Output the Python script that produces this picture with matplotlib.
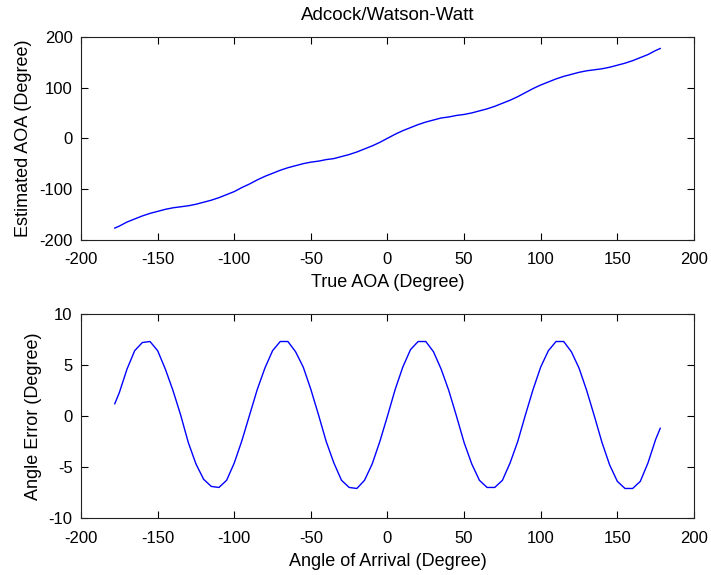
import numpy as np
import matplotlib
matplotlib.use("Agg")
import matplotlib.pyplot as plt

# angle grid (degrees)
aoa = [-178, -175, -170, -165, -160, -155, -150, -145, -140, -135, -130, -125,
       -120, -115, -110, -105, -100, -95, -90, -85, -80, -75, -70, -65, -60,
       -55, -50, -45, -40, -35, -30, -25, -20, -15, -10, -5, 0, 5, 10, 15, 20,
       25, 30, 35, 40, 45, 50, 55, 60, 65, 70, 75, 80, 85, 90, 95, 100, 105,
       110, 115, 120, 125, 130, 135, 140, 145, 150, 155, 160, 165, 170, 175, 178]

# top panel: estimated AOA
est = [-177, -173, -165, -159, -153, -148, -144, -140, -137, -135, -133, -130,
       -126, -122, -117, -111, -105, -97, -90, -82, -75, -69, -63, -58, -54,
       -50, -47, -45, -42, -40, -36, -32, -27, -21, -15, -8, 0, 8, 15, 21, 27,
       32, 36, 40, 42, 45, 47, 50, 54, 58, 63, 69, 75, 82, 90, 98, 105, 111,
       117, 122, 126, 130, 133, 135, 137, 140, 144, 148, 153, 159, 165, 173, 177]

# bottom panel: angle error
err = [1.2, 2.3, 4.6, 6.4, 7.2, 7.3, 6.4, 4.6, 2.5, 0.1, -2.6, -4.7,
       -6.2, -6.9, -7.0, -6.3, -4.6, -2.4, 0.1, 2.6, 4.7, 6.4, 7.3, 7.3, 6.3,
       4.8, 2.6, 0.1, -2.5, -4.6, -6.3, -7.0, -7.1, -6.3, -4.7, -2.5, 0.0, 2.6, 4.8, 6.5, 7.3,
       7.3, 6.3, 4.6, 2.5, 0.0, -2.6, -4.7, -6.3, -7.0, -7.0, -6.3, -4.6, -2.5, 0.1, 2.6, 4.8, 6.4,
       7.3, 7.3, 6.3, 4.7, 2.5, 0.0, -2.6, -4.8, -6.4, -7.1, -7.1, -6.4, -4.6, -2.3, -1.2]

plt.rcParams['font.family'] = ['Liberation Sans', 'DejaVu Sans']
plt.rcParams['font.size'] = 12
plt.rcParams['axes.unicode_minus'] = False

fig = plt.figure(figsize=(7.11, 5.75), dpi=100)
ax1 = fig.add_axes([0.114, 0.583, 0.862, 0.353])
ax2 = fig.add_axes([0.114, 0.099, 0.862, 0.355])

ax1.plot(aoa, est, color='#0000ff', lw=1)
ax1.set_xlim(-200, 200)
ax1.set_ylim(-200, 200)
ax1.set_yticks([-200, -100, 0, 100, 200])
ax1.set_xlabel("True AOA (Degree)", fontsize=13)
ax1.set_ylabel("Estimated AOA (Degree)", fontsize=13)
ax1.set_title("Adcock/Watson-Watt", fontsize=13.5, pad=12)

ax2.plot(aoa, err, color='#0000ff', lw=1)
ax2.set_xlim(-200, 200)
ax2.set_ylim(-10, 10)
ax2.set_yticks([-10, -5, 0, 5, 10])
ax2.set_xlabel("Angle of Arrival (Degree)", fontsize=13)
ax2.set_ylabel("Angle Error (Degree)", fontsize=13)

for ax in (ax1, ax2):
    ax.set_xticks(np.arange(-200, 201, 50))
    ax.tick_params(direction='in', top=True, right=True, length=5, labelsize=12)
    ax.tick_params(axis='x', pad=9)
    ax.tick_params(axis='y', pad=6)
    ax.xaxis.labelpad = 5
    ax.yaxis.labelpad = 5
    for s in ax.spines.values():
        s.set_color('#222222')

fig.savefig("out.png", dpi=100)
